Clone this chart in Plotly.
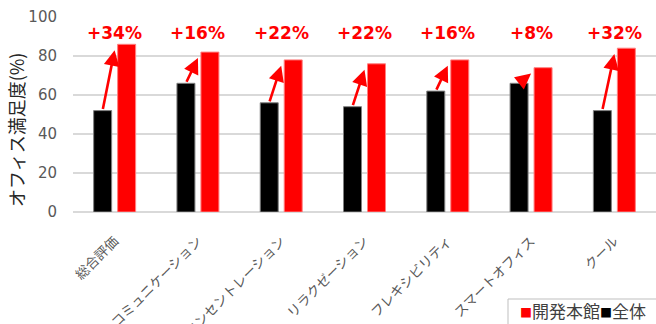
import plotly.graph_objects as go

categories = ["総合評価", "コミュニケーション", "コンセントレーション", "リラクゼーション",
              "フレキシビリティ", "スマートオフィス", "クール"]
zentai = [52, 66, 56, 54, 62, 66, 52]
honkan = [86, 82, 78, 76, 78, 74, 84]
y_ticks = [0, 20, 40, 60, 80, 100]

W, H = 656, 324
L, R, T, B = 73, 0, 17, 112
pw, ph = W - L - R, H - T - B

JP = "Noto Sans CJK JP"

fig = go.Figure()
fig.add_trace(go.Bar(x=categories, y=zentai, name="全体",
                     marker=dict(color="#000000", line=dict(color="#808080", width=1)),
                     showlegend=False))
fig.add_trace(go.Bar(x=categories, y=honkan, name="開発本館",
                     marker=dict(color="#ff0000", line=dict(color="#ff8080", width=1)),
                     showlegend=False))

def px_x(p):
    return (p - L) / pw

def px_y(p):
    return (T + ph - p) / ph

annotations = []
for i, (b, r) in enumerate(zip(zentai, honkan)):
    annotations.append(dict(
        x=i + 0.0, y=r - 3, xref="x", yref="y",
        ax=i - 0.145, ay=b, axref="x", ayref="y",
        text="", showarrow=True, arrowhead=2, arrowsize=1.2, arrowwidth=2.6,
        arrowcolor="#ff0000", standoff=0, startstandoff=0))
    annotations.append(dict(
        x=i, y=92, xref="x", yref="y", text=f"<b>+{r - b}%</b>", showarrow=False,
        font=dict(family="DejaVu Sans", size=17, color="#ff0000"),
        xanchor="center", yanchor="middle"))

# y-axis title
annotations.append(dict(
    x=px_x(16), y=px_y(130), xref="paper", yref="paper", showarrow=False,
    text="オフィス満足度(%)", textangle=-90, xanchor="center", yanchor="middle",
    font=dict(family=JP, size=18, color="#262626")))

# legend text
annotations.append(dict(
    x=px_x(519), y=px_y(310), xref="paper", yref="paper",
    xanchor="left", yanchor="middle", showarrow=False,
    text="<span style='color:#ff0000;font-size:12px'>■</span>開発本館"
         "<span style='color:#000000;font-size:12px'>■</span>全体",
    font=dict(family=JP, size=17, color="#404040"), borderpad=0))

shapes = [dict(type="rect", xref="paper", yref="paper",
               x0=px_x(508), x1=px_x(700), y0=px_y(299), y1=px_y(360),
               line=dict(color="#bfbfbf", width=1), fillcolor="rgba(0,0,0,0)",
               layer="above")]

fig.update_layout(
    width=W, height=H, margin=dict(l=L, r=R, t=T, b=B, pad=0),
    template="none", paper_bgcolor="#ffffff", plot_bgcolor="#ffffff",
    barmode="group", bargap=0.424, bargroupgap=0.25,
    annotations=annotations, shapes=shapes, showlegend=False,
    font=dict(family="DejaVu Sans", color="#595959"),
)
fig.update_xaxes(
    type="category", tickangle=-45, automargin=False,
    tickfont=dict(family=JP, size=13.5, color="#595959"),
    showgrid=False, showline=False, zeroline=False,
    ticks="outside", ticklen=15, tickcolor="rgba(0,0,0,0)",
)
fig.update_yaxes(
    range=[0, 100], tickvals=y_ticks, automargin=False,
    tickfont=dict(family="DejaVu Sans", size=15, color="#595959"),
    showgrid=True, gridcolor="#d9d9d9", gridwidth=2,
    zeroline=True, zerolinecolor="#d9d9d9", zerolinewidth=2,
    ticks="outside", ticklen=12, tickcolor="rgba(0,0,0,0)", showline=False,
)

fig.write_html("out.html")
